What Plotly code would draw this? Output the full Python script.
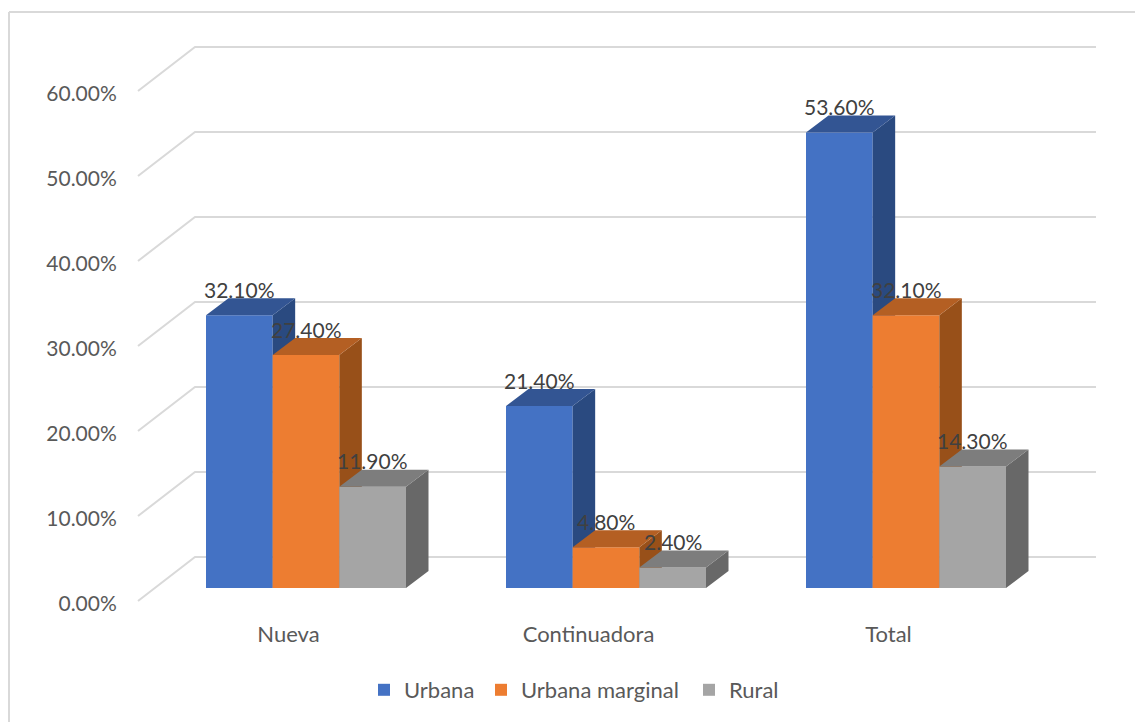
import plotly.graph_objects as go

# Chart data (percent)
categories = ["Nueva", "Continuadora", "Total"]
urbana = [32.1, 21.4, 53.6]
urbana_marginal = [27.4, 4.8, 32.1]
rural = [11.9, 2.4, 14.3]
axis_ticks = [0, 10, 20, 30, 40, 50, 60]
axis_tick_labels = ["0.00%", "10.00%", "20.00%", "30.00%", "40.00%", "50.00%", "60.00%"]

series = [
    ("Urbana", urbana, "#4472C4", "#335593", "#2A4A80", 72),
    ("Urbana marginal", urbana_marginal, "#ED7D31", "#B45F23", "#985019", 163),
    ("Rural", rural, "#A5A5A5", "#7D7D7D", "#686868", 55),
]

# Canvas and plot box, in pixels
W, H = 1135, 722
L, R, T, B = 125, 1110, 20, 610
PX_PER_CAT = 300.0
PX_PER_PCT = 8.5
CAT0_PX = 306.0       # centre of the first bar group
BAR_BASE_PX = 588.0   # zero line of the bars' front faces
TICK_PX = 604.0       # zero of the tick-label scale
FLOOR_PX = 601.0      # front edge of the floor
WALL_PX = 557.0       # zero line on the back wall

BAR_W = 2 / 9
DEPTH_X = 22.5 / PX_PER_CAT
DEPTH_Y = 17 / PX_PER_PCT
WALL_X0 = (195 - CAT0_PX) / PX_PER_CAT
WALL_X1 = (1096 - CAT0_PX) / PX_PER_CAT
FLOOR_X0 = (138 - CAT0_PX) / PX_PER_CAT
FLOOR_RISE = (TICK_PX - FLOOR_PX) / PX_PER_PCT
WALL_RISE = (TICK_PX - WALL_PX) / PX_PER_PCT
LABEL_SHIFT = -17.5 / PX_PER_CAT

FONT = "Lato"
TICK_COLOR = "#595959"
GRID = "#D9D9D9"

fig = go.Figure()

# Floor diagonals and back-wall gridlines, on the tick scale
gx, gy = [], []
for v in axis_ticks:
    gx += [FLOOR_X0, WALL_X0, WALL_X1, None]
    gy += [v + FLOOR_RISE, v + WALL_RISE, v + WALL_RISE, None]
fig.add_trace(go.Scatter(x=gx, y=gy, mode="lines", line=dict(color=GRID, width=2),
                         hoverinfo="skip", showlegend=False, yaxis="y"))

# Each series sits on its own overlaid axis so later series cover earlier side faces
for s, (name, values, front, top, side, entry_w) in enumerate(series):
    yref = f"y{s + 2}"
    offset = -1 / 3 + s * BAR_W
    fig.add_trace(go.Bar(x=list(range(len(values))), y=values, name=name, width=BAR_W,
                         offset=offset, marker=dict(color=front, line=dict(width=0)),
                         yaxis=yref, hoverinfo="skip", legendwidth=entry_w))
    top_x, top_y, side_x, side_y = [], [], [], []
    for i, v in enumerate(values):
        x0 = i + offset
        x1 = x0 + BAR_W
        top_x += [x0, x1, x1 + DEPTH_X, x0 + DEPTH_X, x0, None]
        top_y += [v, v, v + DEPTH_Y, v + DEPTH_Y, v, None]
        side_x += [x1, x1 + DEPTH_X, x1 + DEPTH_X, x1, x1, None]
        side_y += [0, DEPTH_Y, v + DEPTH_Y, v, 0, None]
    for fx, fy, col in ((side_x, side_y, side), (top_x, top_y, top)):
        fig.add_trace(go.Scatter(x=fx, y=fy, mode="lines", fill="toself", fillcolor=col,
                                 line=dict(width=0, color=col), hoverinfo="skip",
                                 showlegend=False, yaxis=yref))

# Value labels above each bar
annotations = []
for s, (name, values, *_rest) in enumerate(series):
    offset = -1 / 3 + s * BAR_W
    for i, v in enumerate(values):
        annotations.append(dict(x=i + offset + BAR_W / 2, y=v, xref="x", yref="y2",
                                text=f"{v:.2f}%", showarrow=False, yshift=26,
                                font=dict(family=FONT, size=21, color="#404040")))

bar_range = [(BAR_BASE_PX - B) / PX_PER_PCT, (BAR_BASE_PX - T) / PX_PER_PCT]
tick_range = [(TICK_PX - B) / PX_PER_PCT, (TICK_PX - T) / PX_PER_PCT]
hidden = dict(overlaying="y", range=bar_range, visible=False, fixedrange=True)


def paper_x(px):
    return (px - L) / (R - L)


def paper_y(px):
    return (B - px) / (B - T)


# Outer chart frame, open towards the right and bottom edges of the page
frame = [
    dict(type="line", xref="paper", yref="paper", x0=paper_x(9), x1=paper_x(1140),
         y0=paper_y(12), y1=paper_y(12), line=dict(color=GRID, width=2)),
    dict(type="line", xref="paper", yref="paper", x0=paper_x(9), x1=paper_x(9),
         y0=paper_y(12), y1=paper_y(730), line=dict(color=GRID, width=2)),
]

fig.update_layout(
    width=W, height=H,
    margin=dict(l=L, r=W - R, t=T, b=H - B, autoexpand=False),
    paper_bgcolor="white", plot_bgcolor="white",
    barmode="overlay",
    font=dict(family=FONT, size=21, color=TICK_COLOR),
    showlegend=True,
    legend=dict(orientation="h", x=paper_x(364), xanchor="left", y=paper_y(690),
                yanchor="middle", font=dict(family=FONT, size=22, color=TICK_COLOR),
                traceorder="normal", bgcolor="rgba(0,0,0,0)"),
    xaxis=dict(range=[(L - CAT0_PX) / PX_PER_CAT, (R - CAT0_PX) / PX_PER_CAT],
               tickvals=[i + LABEL_SHIFT for i in range(len(categories))],
               ticktext=categories, showgrid=False, zeroline=False, showline=False,
               ticks="outside", ticklen=5, tickcolor="rgba(0,0,0,0)", fixedrange=True,
               tickfont=dict(family=FONT, size=22, color=TICK_COLOR)),
    yaxis=dict(range=tick_range, tickvals=axis_ticks, ticktext=axis_tick_labels,
               showgrid=False, zeroline=False, showline=False, ticks="outside", ticklen=3,
               tickcolor="rgba(0,0,0,0)", fixedrange=True,
               tickfont=dict(family=FONT, size=21, color=TICK_COLOR)),
    yaxis2=hidden, yaxis3=hidden, yaxis4=hidden,
    annotations=annotations,
    shapes=frame,
)

fig.write_html("out.html", config=dict(displayModeBar=False))
